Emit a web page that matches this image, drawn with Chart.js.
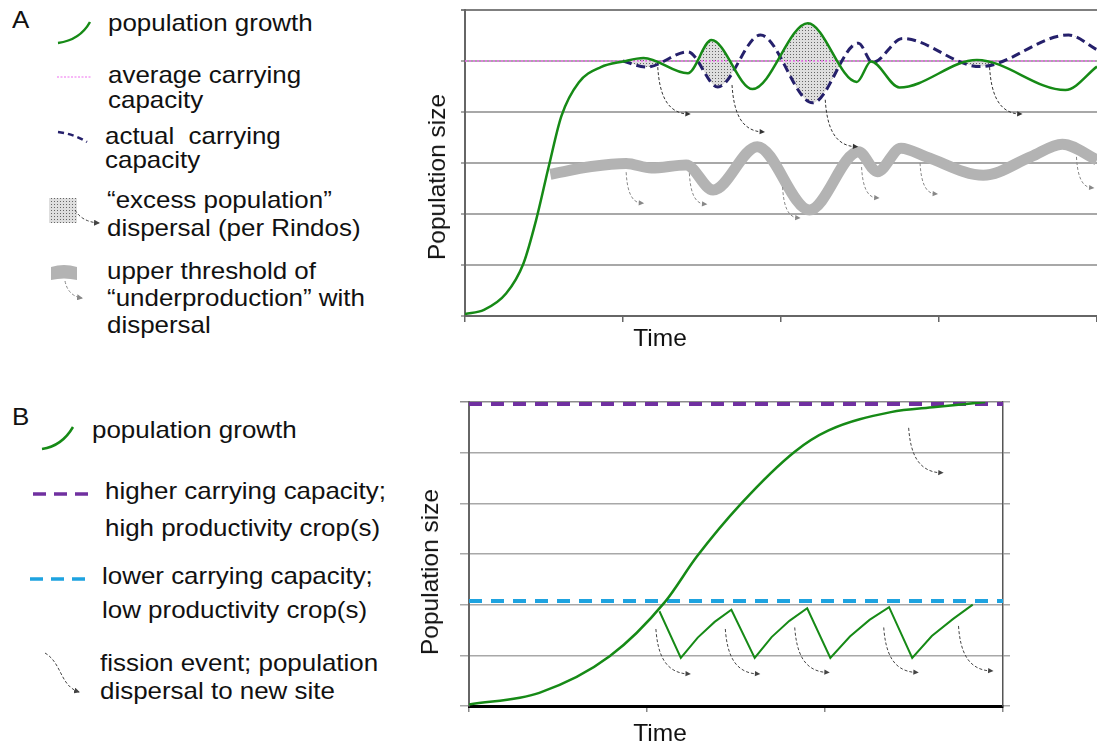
<!DOCTYPE html>
<html>
<head>
<meta charset="utf-8">
<script src="https://cdn.jsdelivr.net/npm/chart.js@4.4.1/dist/chart.umd.min.js"></script>
<style>
  html,body{margin:0;padding:0;background:#fff;width:1097px;height:747px;overflow:hidden;}
  body{position:relative;font-family:"Liberation Sans",Arial,sans-serif;color:#111;}
  .cv{position:absolute;left:400px;}
  #chartA{top:0;}
  #chartB{top:380px;}
  .lbl{position:absolute;font-size:24px;line-height:28px;white-space:pre;transform:scaleX(1.08);transform-origin:left center;}
  .ttl{position:absolute;font-size:24.5px;line-height:28px;white-space:nowrap;}
  svg{position:absolute;left:0;top:0;}
</style>
</head>
<body>
<canvas id="chartA" class="cv" width="697" height="360"></canvas>
<canvas id="chartB" class="cv" width="697" height="367"></canvas>

<svg width="400" height="747">
  <defs>
    <pattern id="stip" width="3" height="3" patternUnits="userSpaceOnUse">
      <rect width="3" height="3" fill="#dedede"/><rect width="1" height="1" fill="#666"/>
    </pattern>
    <marker id="hd" markerWidth="6" markerHeight="6" refX="5" refY="3" orient="auto">
      <path d="M0,0 L6,3 L0,6 z" fill="#444"/>
    </marker>
    <marker id="hg" markerWidth="6" markerHeight="6" refX="5" refY="3" orient="auto">
      <path d="M0,0 L6,3 L0,6 z" fill="#888"/>
    </marker>
  </defs>
  <!-- A legend -->
  <path d="M58,43 Q80,40 90,22" stroke="#168a16" stroke-width="2.5" fill="none"/>
  <line x1="57" y1="77" x2="91" y2="77" stroke="#f5a0f5" stroke-width="1.5" stroke-dasharray="2 1.5"/>
  <path d="M58,132 Q74,134 87,142" stroke="#25206b" stroke-width="2.5" fill="none" stroke-dasharray="6 4"/>
  <rect x="49" y="198" width="28" height="25" fill="url(#stip)"/>
  <path d="M75,210 Q82,222 99,223" stroke="#444" stroke-width="1" fill="none" stroke-dasharray="3 2" marker-end="url(#hd)"/>
  <path d="M51,267 Q64,263 77,267 L77,280 Q64,277 51,280 z" fill="#b3b3b3"/>
  <path d="M65,281 Q68,296 82,298" stroke="#888" stroke-width="1" fill="none" stroke-dasharray="3 2" marker-end="url(#hg)"/>
  <!-- B legend -->
  <path d="M42,449 Q62,446 73,427" stroke="#168a16" stroke-width="2.5" fill="none"/>
  <line x1="33" y1="494" x2="90" y2="494" stroke="#7030a0" stroke-width="3.5" stroke-dasharray="13 8"/>
  <line x1="30" y1="579" x2="88" y2="579" stroke="#1ea3e0" stroke-width="3.5" stroke-dasharray="13 8"/>
  <path d="M45,653 C62,663 60,686 79,692" stroke="#444" stroke-width="1" fill="none" stroke-dasharray="3 2" marker-end="url(#hd)"/>
</svg>

<div class="lbl" style="left:12px;top:6px">A</div>
<div class="lbl" style="left:108px;top:9px">population growth</div>
<div class="lbl" style="left:108px;top:61px">average carrying</div>
<div class="lbl" style="left:108px;top:86px">capacity</div>
<div class="lbl" style="left:105px;top:122px">actual  carrying</div>
<div class="lbl" style="left:105px;top:146px">capacity</div>
<div class="lbl" style="left:107px;top:186px">“excess population”</div>
<div class="lbl" style="left:107px;top:214px">dispersal (per Rindos)</div>
<div class="lbl" style="left:107px;top:257px">upper threshold of</div>
<div class="lbl" style="left:107px;top:284px">“underproduction” with</div>
<div class="lbl" style="left:107px;top:311px">dispersal</div>

<div class="lbl" style="left:12px;top:403px">B</div>
<div class="lbl" style="left:92px;top:416px">population growth</div>
<div class="lbl" style="left:105px;top:477px">higher carrying capacity;</div>
<div class="lbl" style="left:105px;top:514px">high productivity crop(s)</div>
<div class="lbl" style="left:102px;top:562px">lower carrying capacity;</div>
<div class="lbl" style="left:102px;top:596px">low productivity crop(s)</div>
<div class="lbl" style="left:100px;top:649px">fission event; population</div>
<div class="lbl" style="left:100px;top:677px">dispersal to new site</div>

<div class="ttl" style="left:437px;top:177px;transform:translate(-50%,-50%) rotate(-90deg)">Population size</div>
<div class="ttl" style="left:660px;top:338px;transform:translate(-50%,-50%)">Time</div>
<div class="ttl" style="left:430px;top:572px;transform:translate(-50%,-50%) rotate(-90deg)">Population size</div>
<div class="ttl" style="left:660px;top:733px;transform:translate(-50%,-50%)">Time</div>

<script>
// ---- panel A data (x: time 0..4, y: population 0..6) ----
const growthARise = [[0,0.04],[0.12,0.12],[0.26,0.44],[0.37,1.03],[0.45,1.88],[0.53,2.93],[0.61,3.92],[0.72,4.58],[0.86,4.88]];
const growthAOsc  = [[1.0,4.99],[1.13,5.06],[1.41,4.76],[1.56,5.41],[1.82,4.45],[2.17,5.74],[2.48,4.59],[2.57,4.99],[2.75,4.48],[3.24,5.02],[3.80,4.43],[4.0,4.89]];
const actualK     = [[1.0,5.0],[1.15,4.88],[1.41,5.18],[1.60,4.49],[1.87,5.51],[2.20,4.18],[2.49,5.35],[2.58,4.97],[2.77,5.44],[3.26,4.89],[3.82,5.51],[4.0,5.22]];
const averageK    = [[0,5.0],[4,5.0]];
const underprod   = [[0.54,2.78],[0.8,2.93],[1.02,2.99],[1.18,2.9],[1.40,2.96],[1.57,2.47],[1.85,3.32],[2.18,2.08],[2.49,3.22],[2.61,2.83],[2.76,3.29],[2.92,3.12],[3.28,2.76],[3.58,3.12],[3.78,3.37],[4.0,3.06]];
const dispersalTopA = [[1.22,4.88],[1.69,4.53],[2.28,4.24],[3.32,4.88]];
const dispersalLowA = [[1.02,2.82],[1.42,2.80],[2.01,2.53],[2.51,2.92],[2.88,3.0],[3.87,3.12]];
const ticksAX = [0,1,2,3,4];

// ---- panel B data (x: time 0..3, y: population 0..6) ----
const growthB   = [[0,0.03],[0.395,0.26],[0.79,0.98],[1.10,2.05],[1.28,2.95],[1.53,4.0],[1.83,5.02],[2.02,5.44],[2.37,5.80],[2.62,5.90],[2.9,6.0]];
const fissionB  = [[1.07,1.87],[1.19,0.95],[1.285,1.35],[1.38,1.66],[1.474,1.90],[1.605,0.95],[1.70,1.36],[1.80,1.68],[1.90,1.93],
                   [2.03,0.95],[2.14,1.37],[2.25,1.70],[2.36,1.95],[2.49,0.95],[2.60,1.38],[2.72,1.72],[2.83,2.0]];
const higherK   = [[0,5.96],[3,5.96]];
const lowerK    = [[0,2.07],[3,2.07]];
const fissionArrowsB = [[1.05,1.52],[1.44,1.52],[1.83,1.55],[2.33,1.55],[2.75,1.58],[2.47,5.49]];

const pts = a => a.map(([x,y]) => ({x,y}));
const GREEN = '#168a16';

function stipple(){
  const c = document.createElement('canvas'); c.width = 3; c.height = 3;
  const g = c.getContext('2d');
  g.fillStyle = '#dedede'; g.fillRect(0,0,3,3);
  g.fillStyle = '#666'; g.fillRect(0,0,1,1);
  return document.getElementById('chartA').getContext('2d').createPattern(c,'repeat');
}

function arrows(groups){
  return {
    id: 'arrows',
    afterDatasetsDraw(chart){
      const {ctx, scales} = chart;
      groups.forEach(g => {
        ctx.save();
        ctx.strokeStyle = g.color; ctx.fillStyle = g.color; ctx.lineWidth = 1;
        g.points.forEach(([vx,vy]) => {
          const sx = scales.x.getPixelForValue(vx), sy = scales.y.getPixelForValue(vy);
          const ex = sx + g.dx, ey = sy + g.dy;
          const cx2 = sx + g.dx*0.25, cy2 = sy + g.dy*0.97;
          ctx.setLineDash([3,2]);
          ctx.beginPath(); ctx.moveTo(sx, sy);
          ctx.bezierCurveTo(sx + g.dx*0.05, sy + g.dy*0.55, cx2, cy2, ex - 3, ey);
          ctx.stroke();
          ctx.setLineDash([]);
          const a = Math.atan2(ey - cy2, ex - cx2), h = 6;
          ctx.beginPath(); ctx.moveTo(ex, ey);
          ctx.lineTo(ex - h*Math.cos(a-0.45), ey - h*Math.sin(a-0.45));
          ctx.lineTo(ex - h*Math.cos(a+0.45), ey - h*Math.sin(a+0.45));
          ctx.closePath(); ctx.fill();
        });
        ctx.restore();
      });
    }
  };
}

const line = (data, color, width, extra) => Object.assign({
  data: pts(data), borderColor: color, borderWidth: width, pointRadius: 0,
  fill: false, cubicInterpolationMode: 'monotone'
}, extra || {});

// ---- chart A ----
new Chart(document.getElementById('chartA'), {
  type: 'scatter',
  data: { datasets: [
    line(underprod, '#b3b3b3', 11, {showLine: true, order: 4, borderCapStyle: 'butt', borderJoinStyle: 'round'}),
    line(averageK, '#f070f0', 1.5, {showLine: true, order: 3, borderDash: [2,2]}),
    line(actualK, '#25206b', 3, {showLine: true, order: 2, borderDash: [9,5]}),
    line(growthAOsc, 'rgba(0,0,0,0)', 0, {showLine: true, order: 5, fill: {target: 2, above: stipple(), below: 'rgba(0,0,0,0)'}}),
    line(growthARise.concat(growthAOsc), GREEN, 2.5, {showLine: true, order: 1})
  ]},
  options: {
    responsive: false, animation: false, events: [],
    layout: { padding: {left: 55, top: 10, right: 0, bottom: 0} },
    plugins: { legend: {display: false}, tooltip: {enabled: false} },
    scales: {
      x: { type: 'linear', min: 0, max: 4,
           afterBuildTicks: s => { s.ticks = ticksAX.map(v => ({value: v})); },
           afterFit: s => { s.height = 44; },
           ticks: {display: false},
           grid: {drawOnChartArea: false, tickLength: 6, color: '#666', lineWidth: 1.5},
           border: {color: '#666', width: 2} },
      y: { min: 0, max: 6, afterFit: s => { s.width = 10; },
           ticks: {display: false, stepSize: 1},
           grid: {tickLength: 4, lineWidth: 2, color: c => c.tick && c.tick.value === 6 ? '#7f7f7f' : '#a8a8a8'},
           border: {color: '#666', width: 2} }
    }
  },
  plugins: [arrows([
    {points: dispersalTopA, color: '#333', dx: 33, dy: 47},
    {points: dispersalLowA, color: '#888', dx: 18, dy: 31}
  ])]
});

// ---- chart B ----
new Chart(document.getElementById('chartB'), {
  type: 'scatter',
  data: { datasets: [
    line(higherK, '#7030a0', 4, {showLine: true, order: 3, borderDash: [13,9], cubicInterpolationMode: 'default', tension: 0}),
    line(lowerK, '#1ea3e0', 4, {showLine: true, order: 3, borderDash: [13,9], cubicInterpolationMode: 'default', tension: 0}),
    line(growthB, GREEN, 2.5, {showLine: true, order: 1}),
    line(fissionB, GREEN, 2, {showLine: true, order: 2, cubicInterpolationMode: 'default', tension: 0})
  ]},
  options: {
    responsive: false, animation: false, events: [],
    layout: { padding: {left: 60, top: 22, right: 87, bottom: 0} },
    plugins: { legend: {display: false}, tooltip: {enabled: false} },
    scales: {
      x: { type: 'linear', min: 0, max: 3, afterFit: s => { s.height = 41; },
           ticks: {display: false, stepSize: 1},
           grid: {drawOnChartArea: false, tickLength: 6, color: '#888', lineWidth: 1.5},
           border: {color: '#000', width: 3} },
      y: { min: 0, max: 6, afterFit: s => { s.width = 9; },
           ticks: {display: false, stepSize: 1},
           grid: {tickLength: 9, lineWidth: 1.5, color: c => c.tick && c.tick.value === 6 ? '#8c8c8c' : '#a8a8a8'},
           border: {color: '#666', width: 2} },
      yr: { position: 'right', min: 0, max: 6, afterFit: s => { s.width = 7; },
            ticks: {display: false, stepSize: 1},
            grid: {drawOnChartArea: false, tickLength: 7, lineWidth: 1.5, color: '#a8a8a8'},
            border: {color: '#555', width: 1.5} }
    }
  },
  plugins: [arrows([
    {points: fissionArrowsB, color: '#444', dx: 35, dy: 45}
  ])]
});
</script>
</body>
</html>
